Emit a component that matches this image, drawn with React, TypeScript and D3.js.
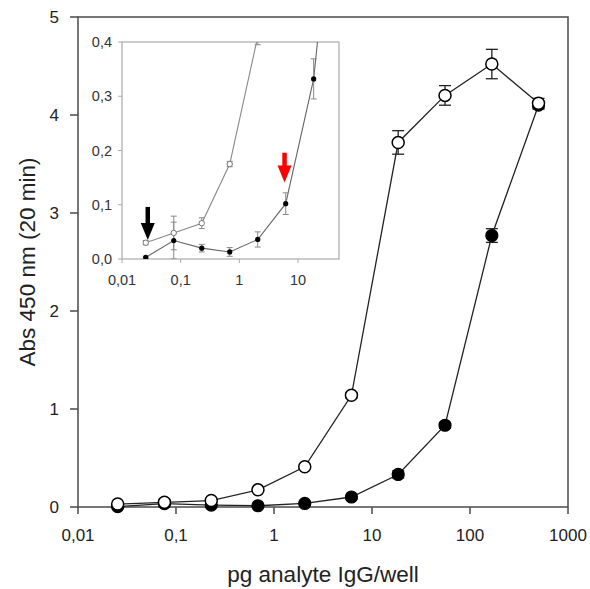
import React from 'react';
import * as d3 from 'd3';

// pg analyte IgG per well (3-fold dilution series)
const doses = [0.0254, 0.0762, 0.229, 0.686, 2.06, 6.17, 18.5, 55.6, 167, 500];
const openMeans = [0.03, 0.048, 0.066, 0.175, 0.41, 1.14, 3.72, 4.2, 4.52, 4.12];
const openErrs = [0.004, 0.031, 0.01, 0.005, 0.015, 0.03, 0.12, 0.1, 0.15, 0.05];
const filledMeans = [0.003, 0.034, 0.02, 0.013, 0.036, 0.102, 0.332, 0.834, 2.77, 4.1];
const filledErrs = [0.002, 0.034, 0.007, 0.008, 0.014, 0.02, 0.037, 0.03, 0.07, 0.04];

const mainXTicks = [0.01, 0.1, 1, 10, 100, 1000];
const mainXLabels = ['0,01', '0,1', '1', '10', '100', '1000'];
const mainYTicks = [0, 1, 2, 3, 4, 5];
const insetXTicks = [0.01, 0.1, 1, 10];
const insetXLabels = ['0,01', '0,1', '1', '10'];
const insetYTicks = [0, 0.1, 0.2, 0.3, 0.4];
const insetYLabels = ['0,0', '0,1', '0,2', '0,3', '0,4'];

// arrows in the inset: dose, tail value, tip value
const arrows = [
  { x: 0.0275, from: 0.096, to: 0.035, color: '#000' },
  { x: 5.9, from: 0.196, to: 0.141, color: '#f00' },
];

const font = 'Liberation Sans, Arial, sans-serif';

const App = () => {
  const x = d3.scaleLog().domain([0.01, 1000]).range([78, 568]);
  const y = d3.scaleLinear().domain([0, 5]).range([507, 17]);
  const ix = d3.scaleLog().domain([0.01, 50]).range([122, 339]);
  const iy = d3.scaleLinear().domain([0, 0.4]).range([259, 42]);

  const line = (sx, sy) => d3.line<number>().x((d, i) => sx(doses[i])).y(d => sy(d));

  const errBars = (means, errs, sx, sy, cap, color, w) =>
    means.map((m, i) => {
      const cx = sx(doses[i]);
      const y1 = sy(m + errs[i]);
      const y2 = sy(Math.max(0, m - errs[i]));
      return (
        <g key={i} stroke={color} strokeWidth={w}>
          <line x1={cx} x2={cx} y1={y1} y2={y2} />
          <line x1={cx - cap} x2={cx + cap} y1={y1} y2={y1} />
          <line x1={cx - cap} x2={cx + cap} y1={y2} y2={y2} />
        </g>
      );
    });

  return (
    <svg width={590} height={589} style={{ position: 'absolute', left: 0, top: 0, background: '#fff' }}>
      <defs>
        <clipPath id="insetClip">
          <rect x={122} y={42} width={217} height={217} />
        </clipPath>
      </defs>

      {/* main frame */}
      <rect x={78} y={17} width={490} height={490} fill="none" stroke="#555" strokeWidth={1.6} />
      {mainYTicks.map(t => (
        <g key={t}>
          <line x1={70} x2={78} y1={y(t)} y2={y(t)} stroke="#555" strokeWidth={1.6} />
          <text x={59} y={y(t)} dy="0.36em" textAnchor="end" fontSize={17} fontFamily={font} fill="#222">{t}</text>
        </g>
      ))}
      {mainXTicks.map((t, i) => (
        <g key={t}>
          <line x1={x(t)} x2={x(t)} y1={507} y2={514} stroke="#555" strokeWidth={1.6} />
          <text x={x(t)} y={541} textAnchor="middle" fontSize={17} fontFamily={font} fill="#222">{mainXLabels[i]}</text>
        </g>
      ))}
      <text x={323} y={582} textAnchor="middle" fontSize={22.5} fontFamily={font} fill="#222">pg analyte IgG/well</text>
      <text transform="translate(35,262) rotate(-90)" textAnchor="middle" fontSize={22.5} fontFamily={font} fill="#222">Abs 450 nm (20 min)</text>

      {/* main series */}
      <path d={line(x, y)(filledMeans)} fill="none" stroke="#222" strokeWidth={1.3} />
      <path d={line(x, y)(openMeans)} fill="none" stroke="#222" strokeWidth={1.3} />
      {errBars(filledMeans, filledErrs, x, y, 6, '#222', 1.3)}
      {errBars(openMeans, openErrs, x, y, 6, '#222', 1.3)}
      {filledMeans.map((m, i) => (
        <circle key={i} cx={x(doses[i])} cy={y(m)} r={6} fill="#000" stroke="#000" strokeWidth={1.2} />
      ))}
      {openMeans.map((m, i) => (
        <circle key={i} cx={x(doses[i])} cy={y(m)} r={6} fill="#fff" stroke="#000" strokeWidth={1.5} />
      ))}

      {/* inset */}
      <rect x={122} y={42} width={217} height={217} fill="#fff" stroke="#aaa" strokeWidth={1.2} />
      {insetYTicks.map((t, i) => (
        <g key={t}>
          <line x1={118} x2={122} y1={iy(t)} y2={iy(t)} stroke="#aaa" strokeWidth={1} />
          <text x={112} y={iy(t)} dy="0.36em" textAnchor="end" fontSize={14.5} fontFamily={font} fill="#333">{insetYLabels[i]}</text>
        </g>
      ))}
      {insetXTicks.map((t, i) => (
        <g key={t}>
          <line x1={ix(t)} x2={ix(t)} y1={259} y2={263} stroke="#aaa" strokeWidth={1} />
          <text x={ix(t)} y={285} textAnchor="middle" fontSize={14.5} fontFamily={font} fill="#333">{insetXLabels[i]}</text>
        </g>
      ))}
      <g clipPath="url(#insetClip)">
        <path d={line(ix, iy)(openMeans)} fill="none" stroke="#888" strokeWidth={1.1} />
        <path d={line(ix, iy)(filledMeans)} fill="none" stroke="#666" strokeWidth={1.1} />
        {errBars(openMeans, openErrs, ix, iy, 3, '#888', 1)}
        {errBars(filledMeans, filledErrs, ix, iy, 3, '#888', 1)}
        {openMeans.map((m, i) => (
          <circle key={i} cx={ix(doses[i])} cy={iy(m)} r={2.7} fill="#fff" stroke="#777" strokeWidth={1} />
        ))}
        {filledMeans.map((m, i) => (
          <circle key={i} cx={ix(doses[i])} cy={iy(m)} r={2.6} fill="#000" />
        ))}
      </g>
      {arrows.map((a, i) => {
        const ax = ix(a.x);
        const y0 = iy(a.from);
        const y1 = iy(a.to);
        return (
          <g key={i} fill={a.color} stroke={a.color}>
            <line x1={ax} x2={ax} y1={y0} y2={y1 - 14} strokeWidth={4.5} />
            <path d={`M${ax - 7},${y1 - 17} L${ax + 7},${y1 - 17} L${ax},${y1} Z`} stroke="none" />
          </g>
        );
      })}
    </svg>
  );
};

export default App;
